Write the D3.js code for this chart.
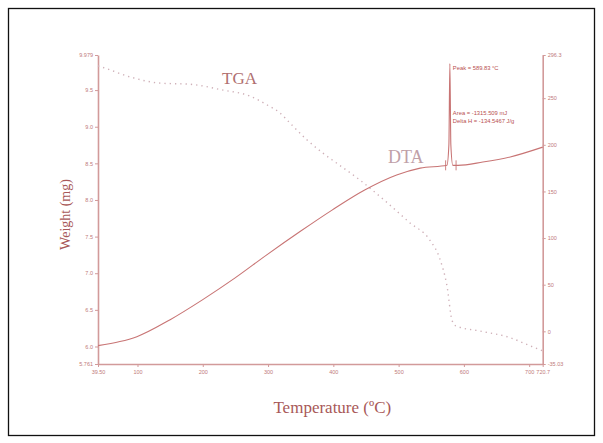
<!DOCTYPE html>
<html><head><meta charset="utf-8">
<script src="https://cdn.jsdelivr.net/npm/d3@7"></script>
<style>body{margin:0;background:#fff}svg{display:block}</style>
</head><body>
<script>
// ---- data ----
const tgaTemp   = [39.5, 50, 88.5, 134.5, 180, 231, 272, 298, 318, 333.6, 359.7, 384, 405.6, 441, 479, 517, 548, 563, 574, 582, 588, 625, 671, 701, 720.7];
const tgaWeight = [9.83, 9.80, 9.68, 9.595, 9.58, 9.50, 9.42, 9.30, 9.19, 9.05, 8.82, 8.64, 8.50, 8.27, 7.99, 7.69, 7.45, 7.20, 6.83, 6.35, 6.28, 6.21, 6.12, 6.01, 5.94];
const dtaTemp   = [39.5, 73, 99, 150, 200, 249, 298, 349, 398, 448, 497, 533, 574, 577, 578.5, 580, 583, 591, 629, 671, 720.7];
const dtaValue  = [-15.3, -11, -5.7, 12.5, 34, 57, 82, 107, 130, 151.5, 167.6, 175, 178, 200, 287, 200, 178, 178, 181.5, 187, 197.5];
const xTickValues = [39.5, 100, 200, 300, 400, 500, 600, 700, 720.7];
const xTickLabels = ["39.50", "100", "200", "300", "400", "500", "600", "700", "720.7"];
const yLeftTickValues = [5.761, 6.0, 6.5, 7.0, 7.5, 8.0, 8.5, 9.0, 9.5, 9.979];
const yLeftTickLabels = ["5.761", "6.0", "6.5", "7.0", "7.5", "8.0", "8.5", "9.0", "9.5", "9.979"];
const yRightTickValues = [-35.03, 0, 50, 100, 150, 200, 250, 296.3];
const yRightTickLabels = ["-35.03", "0", "50", "100", "150", "200", "250", "296.3"];
const integrationTemps = [572, 588];
const peakTemp = 578.5;
const annotations = ["Peak = 589.83 °C", "Area = -1315.509 mJ", "Delta H = -134.5467 J/g"];

// ---- layout ----
const W = 603, H = 443;
const M = {left: 98, right: 603 - 542.7, top: 55, bottom: 443 - 364};
const axisColor = "#d29a9a", textColor = "#c07a7a", titleColor = "#a85858";

const svg = d3.select("body").append("svg").attr("width", W).attr("height", H);
svg.append("rect").attr("x", 8.5).attr("y", 8.5).attr("width", 586).attr("height", 427)
  .attr("fill", "#fff").attr("stroke", "#111").attr("stroke-width", 1.3);

const x = d3.scaleLinear().domain([39.5, 720.7]).range([M.left, W - M.right]);
const yL = d3.scaleLinear().domain([5.761, 9.979]).range([H - M.bottom, M.top]);
const yR = d3.scaleLinear().domain([-35.03, 296.3]).range([H - M.bottom, M.top]);

function styleAxis(g) {
  g.select(".domain").attr("stroke", axisColor).attr("stroke-width", 1.6);
  g.selectAll(".tick line").attr("stroke", axisColor).attr("stroke-width", 1);
  g.selectAll(".tick text").attr("fill", textColor).attr("font-family", "Liberation Sans, Arial, sans-serif").attr("font-size", 5.5);
}

svg.append("g").attr("transform", `translate(0,${H - M.bottom})`)
  .call(d3.axisBottom(x).tickValues(xTickValues).tickFormat((d, i) => xTickLabels[i]).tickSize(3).tickPadding(3).tickSizeOuter(0))
  .call(styleAxis);
svg.append("g").attr("transform", `translate(${M.left},0)`)
  .call(d3.axisLeft(yL).tickValues(yLeftTickValues).tickFormat((d, i) => yLeftTickLabels[i]).tickSize(3).tickPadding(2).tickSizeOuter(0))
  .call(styleAxis);
svg.append("g").attr("transform", `translate(${W - M.right},0)`)
  .call(d3.axisRight(yR).tickValues(yRightTickValues).tickFormat((d, i) => yRightTickLabels[i]).tickSize(3).tickPadding(2).tickSizeOuter(0))
  .call(styleAxis);

// TGA dotted
const tga = tgaTemp.map((t, i) => [t, tgaWeight[i]]);
svg.append("path").datum(tga)
  .attr("d", d3.line().x(d => x(d[0])).y(d => yL(d[1])).curve(d3.curveMonotoneX))
  .attr("fill", "none").attr("stroke", "#cfb0b8").attr("stroke-width", 1.4)
  .attr("stroke-dasharray", "1.3,4");

// DTA solid
const dta = dtaTemp.map((t, i) => [t, dtaValue[i]]);
svg.append("path").datum(dta)
  .attr("d", d3.line().x(d => x(d[0])).y(d => yR(d[1])).curve(d3.curveMonotoneX))
  .attr("fill", "none").attr("stroke", "#c87474").attr("stroke-width", 1.1);

// integration markers
integrationTemps.forEach(t => {
  svg.append("line").attr("x1", x(t)).attr("x2", x(t))
    .attr("y1", yR(178) - 5).attr("y2", yR(178) + 5)
    .attr("stroke", "#c87474").attr("stroke-width", 0.9);
});

// annotations
const ax = x(peakTemp) + 3;
const annFont = "Liberation Sans, Arial, sans-serif";
svg.append("text").attr("x", ax).attr("y", yR(287) + 6).text(annotations[0])
  .attr("font-family", annFont).attr("font-size", 5.8).attr("fill", "#b85050");
svg.append("text").attr("x", ax).attr("y", yR(232)).text(annotations[1])
  .attr("font-family", annFont).attr("font-size", 5.8).attr("fill", "#b85050");
svg.append("text").attr("x", ax).attr("y", yR(223)).text(annotations[2])
  .attr("font-family", annFont).attr("font-size", 5.8).attr("fill", "#b85050");

// series labels
svg.append("text").attr("x", 222).attr("y", 84).text("TGA")
  .attr("font-family", "Liberation Serif, Times New Roman, serif").attr("font-size", 17).attr("fill", "#b07070");
svg.append("text").attr("x", 388).attr("y", 163).text("DTA")
  .attr("font-family", "Liberation Serif, Times New Roman, serif").attr("font-size", 18).attr("fill", "#c0a0a8");

// axis titles
svg.append("text").attr("transform", `translate(70,${(M.top + H - M.bottom) / 2 + 5}) rotate(-90)`)
  .attr("text-anchor", "middle").text("Weight (mg)")
  .attr("font-family", "Liberation Serif, Times New Roman, serif").attr("font-size", 14).attr("fill", titleColor);
svg.append("text").attr("x", (M.left + W - M.right) / 2 + 12).attr("y", 413).attr("text-anchor", "middle")
  .text("Temperature (ºC)")
  .attr("font-family", "Liberation Serif, Times New Roman, serif").attr("font-size", 17).attr("fill", titleColor);
</script>
</body></html>
